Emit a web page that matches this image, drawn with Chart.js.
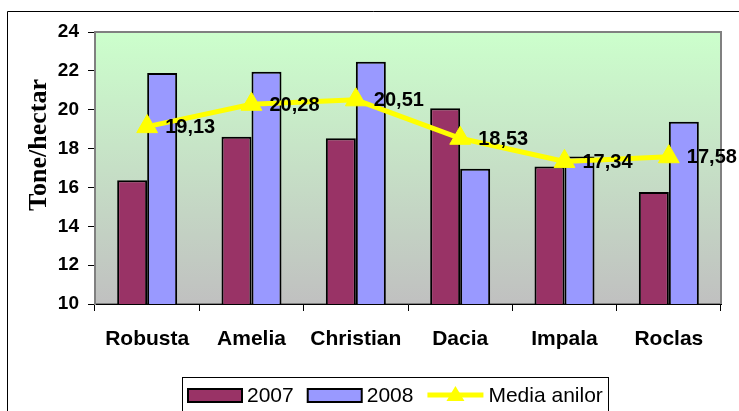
<!DOCTYPE html>
<html>
<head>
<meta charset="utf-8">
<script src="https://cdn.jsdelivr.net/npm/chart.js@4.4.0/dist/chart.umd.min.js"></script>
<style>
  body { margin: 0; background: #fff; }
  #wrap { width: 739px; height: 411px; }
</style>
</head>
<body>
<div id="wrap"><canvas id="chart" width="739" height="411"></canvas></div>
<script>
const categories = ['Robusta', 'Amelia', 'Christian', 'Dacia', 'Impala', 'Roclas'];
const values2007 = [16.37, 18.61, 18.53, 20.08, 17.08, 15.77];
const values2008 = [21.89, 21.96, 22.47, 16.96, 17.59, 19.38];
const mediaAnilor = [19.13, 20.28, 20.51, 18.53, 17.34, 17.58];
const yTicks = [10, 12, 14, 16, 18, 20, 22, 24];

const fmt = v => v.toFixed(2).replace('.', ',');

// background, borders, labels, legend
const decor = {
  id: 'decor',
  beforeDraw(chart) {
    const ctx = chart.ctx, a = chart.chartArea;
    ctx.save();
    const g = ctx.createLinearGradient(0, a.top, 0, a.bottom);
    g.addColorStop(0, '#CCFFCC');
    g.addColorStop(1, '#C0C0C0');
    ctx.fillStyle = g;
    ctx.fillRect(a.left, a.top, a.right - a.left, a.bottom - a.top);
    ctx.strokeStyle = '#808080';
    ctx.lineWidth = 2;
    ctx.strokeRect(a.left, a.top, a.right - a.left, a.bottom - a.top);
    // outer frame
    ctx.strokeStyle = '#000';
    ctx.lineWidth = 1;
    ctx.beginPath();
    ctx.moveTo(7.5, 411);
    ctx.lineTo(7.5, 11.5);
    ctx.lineTo(739, 11.5);
    ctx.stroke();
    ctx.restore();
  },
  afterDatasetsDraw(chart) {
    const ctx = chart.ctx;
    const meta = chart.getDatasetMeta(2);
    ctx.save();
    ctx.font = 'bold 20px "Liberation Sans", Arial, sans-serif';
    ctx.fillStyle = '#000';
    ctx.textBaseline = 'middle';
    ctx.textAlign = 'left';
    meta.data.forEach((p, i) => {
      ctx.fillText(fmt(mediaAnilor[i]), p.x + 18, p.y + 1);
    });
    ctx.restore();
  },
  afterDraw(chart) {
    const ctx = chart.ctx;
    ctx.save();
    // y axis title
    ctx.translate(39, 145);
    ctx.rotate(-Math.PI / 2);
    ctx.font = 'bold 26px "Liberation Serif", "Times New Roman", serif';
    ctx.fillStyle = '#000';
    ctx.textAlign = 'center';
    ctx.textBaseline = 'middle';
    ctx.fillText('Tone/hectar', 0, 0);
    ctx.restore();

    // legend
    ctx.save();
    ctx.strokeStyle = '#000';
    ctx.lineWidth = 1;
    ctx.strokeRect(182.5, 377.5, 426, 40);
    ctx.font = '21px "Liberation Sans", Arial, sans-serif';
    ctx.textBaseline = 'middle';
    ctx.textAlign = 'left';
    let x = 188;
    const cy = 395;
    chart.data.datasets.forEach(ds => {
      if (ds.type === 'line') {
        ctx.strokeStyle = ds.borderColor;
        ctx.lineWidth = 5;
        ctx.beginPath();
        ctx.moveTo(x, cy);
        ctx.lineTo(x + 56, cy);
        ctx.stroke();
        ctx.fillStyle = ds.pointBackgroundColor;
        ctx.beginPath();
        ctx.moveTo(x + 28, cy - 9);
        ctx.lineTo(x + 37, cy + 6);
        ctx.lineTo(x + 19, cy + 6);
        ctx.closePath();
        ctx.fill();
        x += 61;
      } else {
        ctx.fillStyle = ds.backgroundColor;
        ctx.fillRect(x, cy - 6, 54, 13);
        ctx.strokeStyle = '#000';
        ctx.lineWidth = 2;
        ctx.strokeRect(x, cy - 6, 54, 13);
        x += 59;
      }
      ctx.fillStyle = '#000';
      ctx.fillText(ds.label, x, cy + 1);
      x += ctx.measureText(ds.label).width + 14;
    });
    ctx.restore();
  }
};

new Chart(document.getElementById('chart'), {
  type: 'bar',
  data: {
    labels: categories,
    datasets: [
      {
        label: '2007',
        data: values2007,
        backgroundColor: '#993366',
        borderColor: '#000',
        borderWidth: 2,
        categoryPercentage: 0.575,
        barPercentage: 1.0,
        order: 1
      },
      {
        label: '2008',
        data: values2008,
        backgroundColor: '#9999FF',
        borderColor: '#000',
        borderWidth: 2,
        categoryPercentage: 0.575,
        barPercentage: 1.0,
        order: 1
      },
      {
        type: 'line',
        label: 'Media anilor',
        data: mediaAnilor,
        borderColor: '#FFFF00',
        borderWidth: 5,
        tension: 0,
        pointStyle: 'triangle',
        pointRadius: 12,
        pointBackgroundColor: '#FFFF00',
        pointBorderColor: '#FFFF00',
        pointBorderWidth: 1,
        order: 0
      }
    ]
  },
  options: {
    responsive: false,
    animation: false,
    events: [],
    layout: { padding: { left: 8, right: 18, top: 32, bottom: 47 } },
    plugins: {
      legend: { display: false },
      tooltip: { enabled: false },
      title: { display: false }
    },
    scales: {
      x: {
        grid: {
          offset: true,
          drawOnChartArea: false,
          drawTicks: true,
          tickLength: 7,
          color: '#000',
          lineWidth: 1
        },
        border: { display: true, color: '#000', width: 1 },
        ticks: {
          color: '#000',
          padding: 16,
          font: { family: '"Liberation Sans", Arial, sans-serif', size: 21, weight: 'bold' }
        },
        afterFit(scale) { scale.height = 60; }
      },
      y: {
        min: 10,
        max: 24,
        afterBuildTicks(scale) { scale.ticks = yTicks.map(v => ({ value: v })); },
        grid: {
          drawOnChartArea: false,
          drawTicks: true,
          tickLength: 7,
          color: '#000',
          lineWidth: 1
        },
        border: { display: true, color: '#808080', width: 2 },
        ticks: {
          color: '#000',
          padding: 9,
          font: { family: '"Liberation Sans", Arial, sans-serif', size: 19, weight: 'bold' }
        },
        afterFit(scale) { scale.width = 87; }
      }
    }
  },
  plugins: [decor]
});
</script>
</body>
</html>
